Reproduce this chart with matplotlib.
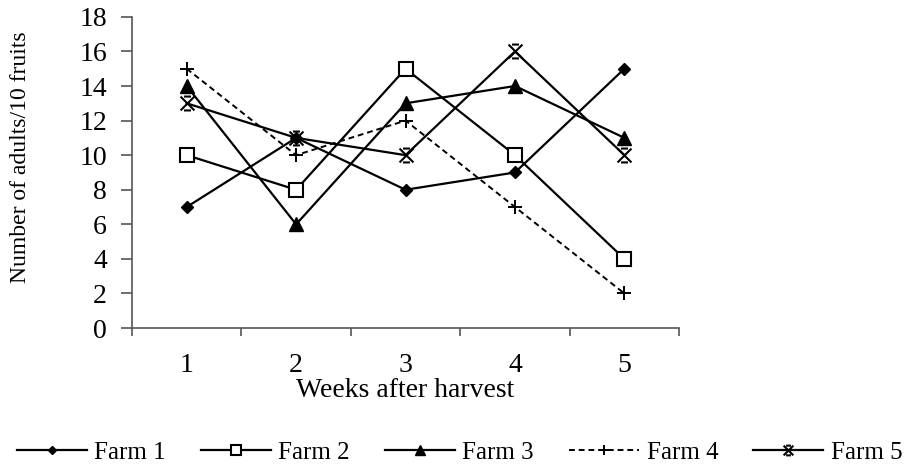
import numpy as np
import matplotlib
matplotlib.use("Agg")
import matplotlib.pyplot as plt
from matplotlib.path import Path

weeks = [1, 2, 3, 4, 5]
farm1 = [7, 11, 8, 9, 15]
farm2 = [10, 8, 15, 10, 4]
farm3 = [14, 6, 13, 14, 11]
farm4 = [15, 10, 12, 7, 2]
farm5 = [13, 11, 10, 16, 10]
labels = ["Farm 1", "Farm 2", "Farm 3", "Farm 4", "Farm 5"]

plt.rcParams['font.family'] = ['Liberation Serif', 'DejaVu Serif']

# x marker with short bars at top and bottom (like the Excel star)
star = Path([(-1, -1), (1, 1), (-1, 1), (1, -1), (-0.5, 1), (0.5, 1), (-0.5, -1), (0.5, -1)],
            [Path.MOVETO, Path.LINETO, Path.MOVETO, Path.LINETO,
             Path.MOVETO, Path.LINETO, Path.MOVETO, Path.LINETO])

fig = plt.figure(figsize=(9.19, 4.68), dpi=100)
ax = fig.add_axes([0.1436, 0.299, 0.5954, 0.665])

lw = 1.6
ax.plot(weeks, farm1, color='black', lw=lw, marker='D', ms=6, mfc='black', label=labels[0])
ax.plot(weeks, farm2, color='black', lw=lw, marker='s', ms=10, mfc='white', mew=1.5, label=labels[1])
ax.plot(weeks, farm3, color='black', lw=lw, marker='^', ms=10, mfc='black', label=labels[2])
ax.plot(weeks, farm4, color='black', lw=1.4, ls=(0, (3, 2)), marker='+', ms=10, mew=1.4, label=labels[3])
ax.plot(weeks, farm5, color='black', lw=lw, marker=star, ms=10, mew=1.5, label=labels[4])

ax.set_xlim(0.5, 5.5)
ax.set_ylim(0, 18)
ax.set_yticks(np.arange(0, 19, 2))
ax.set_xticks([0.5, 1.5, 2.5, 3.5, 4.5, 5.5])
ax.set_xticklabels([])
ax.set_xticks(weeks, minor=True)
ax.set_xticklabels([str(w) for w in weeks], minor=True)
ax.tick_params(axis='x', which='major', direction='out', length=6, width=1.2, color='#555555')
ax.tick_params(axis='x', which='minor', length=0, pad=18, labelsize=20)
ax.tick_params(axis='y', direction='out', length=8, width=1.2, color='#555555', labelsize=20, pad=10)

for s in ['top', 'right']:
    ax.spines[s].set_visible(False)
for s in ['left', 'bottom']:
    ax.spines[s].set_color('#555555')
    ax.spines[s].set_linewidth(1.2)

ax.set_xlabel('Weeks after harvest', fontsize=20, labelpad=0)
ax.set_ylabel('Number of adults/10 fruits', fontsize=17)
ax.yaxis.set_label_coords(-0.185, 0.55)

fig.legend(loc='lower center', bbox_to_anchor=(0.5, -0.04), ncol=5, frameon=False,
           fontsize=18, handlelength=2.8, columnspacing=1.4, handletextpad=0.3, markerscale=0.7)

fig.savefig('out.png', dpi=100)
